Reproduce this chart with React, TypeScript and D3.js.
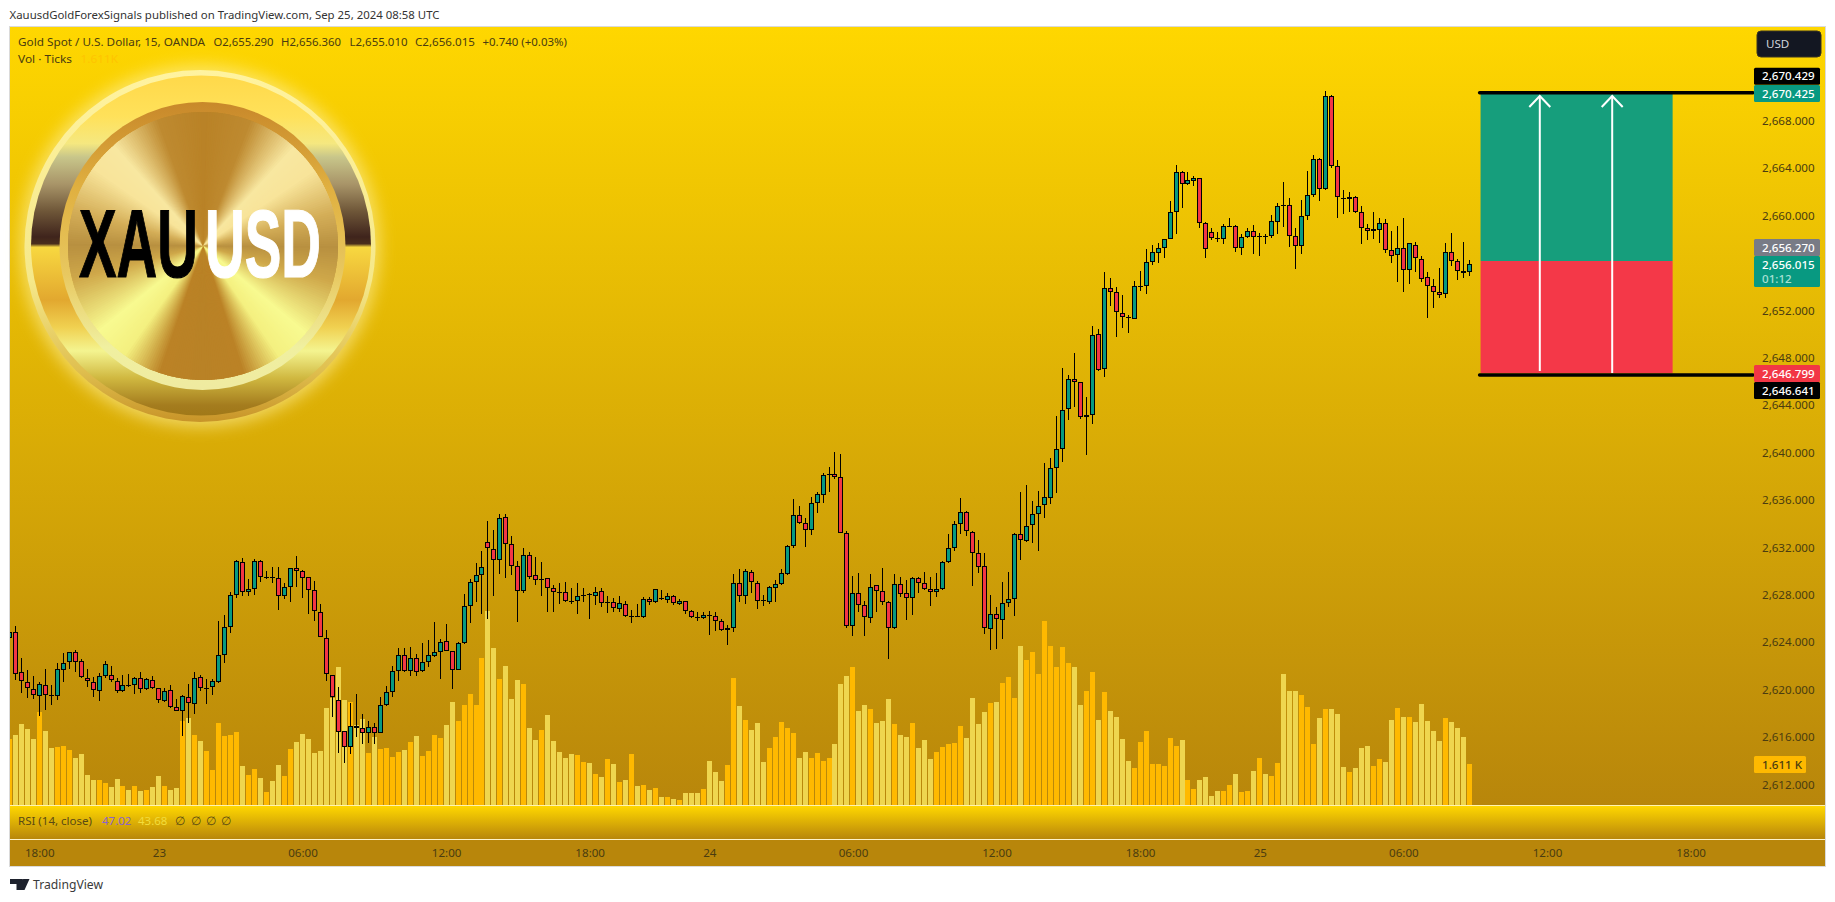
import { useEffect, useRef } from 'react';
import * as d3 from 'd3';

// candles, first one is cut by the left edge of the pane (index -1)
const opens = [
  2624.38,2624.83,2621.51,2620.67,2620.02,2619.49,2620.36,2619.52,2619.49,2621.63,
  2622.30,2623.14,2622.38,2620.95,2620.67,2619.85,2621.12,2621.20,2620.75,2619.85,
  2620.36,2620.36,2620.95,2620.02,2620.78,2620.11,2619.01,2619.94,2618.50,2618.17,
  2619.35,2618.76,2621.03,2620.11,2620.19,2620.61,2622.89,2625.25,2627.95,2630.74,
  2628.21,2628.46,2630.82,2629.47,2629.47,2629.39,2627.87,2628.63,2630.23,2629.98,
  2629.47,2628.38,2626.52,2624.33,2621.20,2619.09,2616.48,2615.13,2616.90,2616.73,
  2616.31,2616.82,2616.31,2618.67,2619.77,2621.54,2622.89,2621.54,2622.64,2621.54,
  2622.30,2622.81,2623.14,2624.07,2623.23,2621.63,2623.90,2627.02,2629.04,2629.63,
  2632.42,2631.83,2630.90,2634.53,2632.25,2630.39,2628.28,2631.32,2629.63,2629.21,
  2629.38,2628.54,2628.20,2628.20,2627.44,2627.44,2627.93,2628.03,2627.86,2628.28,
  2627.34,2627.36,2626.77,2627.19,2626.15,2626.17,2626.09,2627.61,2627.36,2627.69,
  2627.53,2627.86,2627.19,2627.44,2626.60,2626.09,2626.01,2626.26,2626.17,2625.75,
  2624.99,2625.16,2628.96,2627.86,2629.89,2628.96,2627.53,2627.36,2628.54,2628.88,
  2629.72,2632.08,2634.70,2634.02,2633.43,2635.71,2636.39,2638.07,2638.16,2637.90,
  2633.18,2625.33,2628.12,2627.10,2626.01,2628.79,2628.28,2627.36,2625.16,2628.88,
  2628.12,2627.69,2629.38,2628.96,2628.45,2628.20,2628.45,2630.73,2631.91,2633.94,
  2634.95,2633.26,2631.49,2630.39,2625.08,2626.34,2625.84,2627.27,2627.61,2633.09,
  2632.50,2633.85,2634.78,2635.54,2636.13,2638.66,2640.27,2643.64,2646.18,2645.92,
  2642.96,2643.13,2649.97,2647.01,2653.85,2653.51,2651.74,2651.40,2651.23,2654.00,
  2654.02,2656.04,2656.80,2657.22,2657.98,2660.26,2663.64,2662.63,2662.88,2663.13,
  2659.33,2658.57,2658.07,2657.98,2659.00,2659.08,2657.22,2658.15,2658.66,2658.22,
  2658.24,2658.24,2659.42,2660.85,2660.85,2658.24,2657.39,2659.92,2661.70,2664.74,
  2662.20,2670.05,2664.14,2661.44,2661.36,2661.53,2660.26,2658.91,2658.66,2658.74,
  2659.33,2657.06,2656.63,2657.22,2655.37,2657.48,2656.30,2654.78,2654.02,2653.51,
  2653.34,2656.89,2656.13,2655.28,2655.20,
];
const closes = [
  2624.83,2621.34,2620.70,2620.11,2619.52,2620.44,2619.52,2619.50,2621.71,2622.22,
  2623.14,2622.36,2621.03,2620.70,2619.94,2621.12,2622.13,2620.78,2619.85,2620.36,
  2620.34,2620.95,2620.02,2620.87,2620.11,2619.09,2619.91,2618.50,2618.22,2619.43,
  2618.84,2620.95,2620.11,2620.13,2620.70,2622.89,2625.25,2627.95,2630.82,2628.21,
  2628.46,2630.82,2629.47,2629.49,2629.39,2627.87,2628.63,2630.23,2629.98,2629.39,
  2628.38,2626.60,2624.41,2621.34,2619.35,2616.39,2615.13,2616.90,2616.73,2616.31,
  2616.82,2616.31,2618.67,2619.77,2621.54,2622.89,2621.54,2622.64,2621.46,2622.30,
  2622.89,2623.14,2623.99,2623.23,2621.63,2623.90,2627.03,2629.04,2629.63,2630.31,
  2631.91,2630.90,2634.45,2632.25,2630.39,2628.28,2631.32,2629.47,2629.21,2629.30,
  2628.54,2628.20,2628.18,2627.44,2627.36,2627.86,2627.95,2628.01,2628.20,2627.27,
  2627.36,2626.85,2627.27,2626.17,2626.17,2626.15,2627.61,2627.36,2628.45,2627.67,
  2627.86,2627.27,2627.44,2626.60,2626.09,2626.01,2626.26,2626.17,2625.75,2624.99,
  2625.16,2628.96,2627.86,2629.97,2629.04,2627.44,2627.44,2628.62,2628.88,2629.80,
  2632.08,2634.70,2634.02,2633.43,2635.71,2636.47,2638.07,2638.16,2637.90,2633.18,
  2625.33,2628.12,2627.10,2626.09,2628.62,2628.28,2627.36,2625.16,2628.88,2628.03,
  2627.69,2629.38,2628.96,2628.45,2628.20,2628.45,2630.73,2631.91,2633.94,2634.95,
  2633.35,2631.49,2630.31,2625.16,2626.34,2625.92,2627.27,2627.61,2633.09,2632.59,
  2633.77,2634.78,2635.46,2636.22,2638.66,2640.27,2643.56,2646.18,2645.92,2642.96,
  2643.13,2649.88,2646.93,2653.85,2653.51,2651.82,2651.40,2651.38,2654.02,2654.02,
  2656.04,2656.89,2657.22,2657.98,2660.26,2663.64,2662.63,2662.96,2663.13,2659.33,
  2657.14,2658.07,2657.98,2659.08,2659.08,2657.22,2658.15,2658.66,2658.15,2658.24,
  2658.22,2659.50,2660.77,2660.83,2658.24,2657.39,2659.92,2661.70,2664.74,2662.20,
  2670.05,2664.14,2661.53,2661.36,2661.53,2660.26,2658.91,2658.66,2658.83,2659.33,
  2657.06,2656.55,2657.22,2655.37,2657.65,2656.38,2654.61,2654.02,2653.51,2653.26,
  2656.89,2656.13,2655.28,2655.11,2655.87,
];
const highs = [
  2624.90,2625.34,2622.64,2621.65,2621.15,2620.67,2621.71,2620.39,2622.22,2623.06,
  2623.14,2623.34,2622.55,2621.71,2621.09,2621.43,2622.38,2621.99,2620.95,2621.20,
  2621.29,2621.09,2621.46,2620.95,2621.15,2620.16,2620.16,2620.36,2619.18,2619.54,
  2620.44,2621.46,2621.20,2620.87,2620.89,2625.79,2626.27,2628.21,2630.94,2631.08,
  2629.31,2630.99,2630.94,2630.01,2630.32,2630.32,2628.97,2630.23,2631.27,2630.06,
  2629.47,2629.14,2627.20,2625.00,2621.20,2620.19,2616.48,2618.84,2619.60,2617.91,
  2617.32,2617.15,2619.40,2620.30,2621.99,2623.48,2623.48,2623.57,2622.98,2623.90,
  2624.19,2625.68,2624.24,2625.51,2623.23,2623.99,2628.04,2629.30,2630.65,2631.66,
  2634.19,2633.43,2634.81,2634.81,2632.93,2630.82,2631.91,2631.58,2631.15,2630.73,
  2629.38,2628.79,2628.96,2629.04,2628.54,2628.96,2628.57,2628.12,2628.65,2628.54,
  2627.86,2627.69,2627.86,2627.44,2626.68,2627.19,2627.78,2627.78,2628.45,2628.37,
  2628.12,2627.95,2627.61,2627.44,2626.68,2626.51,2626.51,2626.60,2626.51,2625.92,
  2625.42,2629.72,2630.14,2630.14,2630.06,2629.13,2627.95,2628.71,2629.21,2630.14,
  2632.17,2636.05,2635.46,2634.45,2636.22,2636.64,2638.27,2638.75,2640.01,2639.85,
  2633.35,2629.55,2629.80,2627.44,2629.72,2628.79,2630.23,2627.44,2629.72,2629.47,
  2629.21,2629.47,2629.47,2629.89,2629.47,2629.80,2630.82,2633.09,2634.19,2636.13,
  2635.04,2633.35,2632.59,2631.49,2627.95,2626.99,2629.07,2629.89,2633.18,2636.64,
  2637.26,2635.88,2636.72,2639.09,2639.51,2643.05,2647.10,2646.51,2648.37,2645.92,
  2644.68,2650.64,2650.39,2655.23,2654.69,2653.93,2653.26,2651.57,2654.44,2655.28,
  2657.14,2657.51,2657.65,2657.98,2661.19,2664.23,2663.72,2663.64,2663.30,2663.13,
  2659.42,2658.91,2658.57,2659.25,2659.76,2659.17,2658.41,2658.91,2659.17,2658.49,
  2658.41,2660.01,2661.02,2662.79,2661.44,2658.91,2661.28,2663.72,2665.07,2664.82,
  2670.47,2670.14,2664.65,2662.12,2661.95,2661.61,2660.77,2659.25,2660.26,2659.76,
  2659.67,2658.66,2659.08,2659.76,2657.65,2657.73,2656.55,2655.20,2654.61,2655.54,
  2657.65,2658.49,2656.30,2657.73,2656.21,
];
const lows = [
  2624.30,2620.84,2619.74,2619.32,2619.23,2617.77,2618.28,2618.73,2619.12,2620.67,
  2621.71,2621.51,2620.95,2620.25,2619.40,2619.07,2620.98,2620.67,2619.74,2619.83,
  2620.19,2619.66,2619.74,2619.97,2620.08,2618.84,2618.95,2618.42,2618.22,2616.11,
  2617.21,2617.97,2619.91,2618.78,2619.54,2620.53,2622.27,2624.80,2627.76,2627.90,
  2627.90,2628.01,2629.11,2629.36,2629.02,2626.75,2627.67,2627.42,2628.63,2627.76,
  2626.41,2625.82,2624.41,2620.75,2617.72,2614.68,2613.83,2614.56,2616.03,2615.41,
  2615.52,2615.41,2616.31,2618.62,2619.40,2620.75,2621.51,2621.18,2621.18,2621.51,
  2621.88,2622.78,2620.89,2623.23,2620.08,2621.63,2623.82,2625.58,2627.36,2626.37,
  2625.95,2627.92,2629.72,2629.44,2629.66,2625.70,2628.17,2629.30,2628.82,2627.92,
  2626.57,2626.57,2627.22,2627.41,2627.24,2626.37,2627.41,2625.98,2627.10,2626.99,
  2626.48,2626.57,2626.57,2626.15,2625.64,2626.15,2626.06,2627.10,2627.33,2627.58,
  2627.27,2627.16,2627.16,2626.40,2626.01,2625.81,2625.98,2624.60,2624.97,2624.97,
  2623.78,2624.88,2627.41,2627.24,2628.17,2626.82,2627.07,2627.19,2627.41,2628.79,
  2629.69,2631.97,2633.99,2632.05,2633.04,2634.87,2635.77,2636.70,2637.79,2633.18,
  2625.16,2624.54,2626.51,2624.54,2625.64,2626.57,2627.10,2622.60,2625.13,2627.83,
  2625.89,2626.32,2628.12,2628.37,2627.07,2627.78,2628.40,2630.65,2631.72,2633.15,
  2632.98,2628.76,2629.86,2624.71,2623.36,2623.45,2624.29,2626.99,2626.23,2630.96,
  2632.48,2632.39,2631.72,2634.50,2635.68,2636.61,2639.20,2642.77,2643.87,2642.85,
  2639.81,2642.40,2646.90,2646.39,2652.36,2649.77,2650.53,2650.11,2651.23,2653.65,
  2653.40,2655.85,2656.01,2656.44,2657.98,2658.46,2660.66,2662.54,2662.51,2658.97,
  2656.44,2657.96,2657.79,2657.62,2659.00,2656.94,2656.69,2658.12,2656.77,2656.61,
  2657.62,2658.12,2658.46,2659.05,2657.36,2655.51,2656.77,2659.64,2661.58,2661.25,
  2662.17,2663.98,2659.81,2660.15,2660.32,2660.23,2657.62,2657.96,2658.04,2657.70,
  2656.86,2656.01,2654.41,2653.57,2654.24,2655.26,2654.41,2651.37,2652.22,2653.06,
  2653.06,2655.76,2654.58,2654.75,2654.92,
];
const volumes = [
  2594,2751,3183,2987,2594,3655,2908,2240,2279,2319,
  2162,1847,2004,1179,983,983,865,707,1022,747,
  590,747,550,590,707,1140,747,590,668,3301,
  3419,2751,2515,2122,1376,3223,2712,2751,2869,1533,
  1179,1415,1061,511,943,1572,1140,2201,2476,2790,
  2594,2044,2122,3812,4205,5423,4127,4048,3144,3380,
  2044,2672,2201,2240,1886,2083,2162,2476,2712,1926,
  2122,2751,2633,3144,4048,3301,3930,4362,3930,5777,
  7624,6170,4952,5463,4166,4913,4755,3026,2555,2948,
  3537,2515,2083,1847,2004,1965,1690,1651,1218,1100,
  1808,1611,904,983,2004,747,786,590,668,314,
  314,236,197,472,472,472,629,1729,1297,943,
  1572,4991,3891,3341,2948,3223,1690,2240,2672,3262,
  3026,2830,1847,2083,1847,2044,1729,1847,2397,4755,
  5070,5423,3694,3930,3773,3223,3301,4166,3183,2751,
  2672,3223,2240,2555,1808,2083,2279,2397,2437,3105,
  2633,4205,3183,3655,4009,4048,4795,5030,4205,6249,
  5699,6013,5148,7231,6249,5423,6209,5581,5423,3930,
  4480,5227,3341,4441,3694,3458,2594,1729,1454,2476,
  2908,1611,1611,1533,2633,2319,2555,983,629,983,
  1100,354,550,550,786,1218,511,550,1336,1847,
  1218,1140,1651,5148,4480,4480,4323,3851,2397,3419,
  3773,3773,3576,1493,1297,1454,2240,2319,1533,1808,
  1690,3341,3812,3458,3458,3262,3969,3301,2908,2515,
  3419,3262,3026,2672,1611,
];

const priceTicks = d3.range(2612, 2669, 4);
const timeTickIndex = [4, 24, 48, 72, 96, 116, 140, 164, 188, 208, 232, 256, 280];
const timeTickLabels = ['18:00', '23', '06:00', '12:00', '18:00', '24', '06:00', '12:00', '18:00', '25', '06:00', '12:00', '18:00'];

// long position drawn on the chart
const targetLevel = 2670.36;
const entryLevel = 2656.16;
const stopLevel = 2646.71;
const lowerLine = 2646.54;
const toolFrom = 244.9;
const toolTo = 277;
const arrowIndex = [254.8, 266.9];
const arrowBase = [2646.88, 2646.71];
const arrowTip = 2670.08;

const coinRingStops = [
  ['0%', '#FFD94A'], ['12%', '#FFE15A'], ['20%', '#F5E880'], ['24%', '#C8C68A'], ['32%', '#A89468'],
  ['40%', '#6E5638'], ['47.5%', '#3F241C'], ['49.5%', '#4A2E1C'], ['50.5%', '#F8D840'], ['66%', '#E2A82F'],
  ['74%', '#F0D050'], ['81%', '#F4F490'], ['89%', '#D0B840'], ['97%', '#A47C1E'], ['100%', '#A07818'],
];
const coinDiscAngles = [0, 20, 42, 55, 75, 90, 105, 130, 145, 162, 180, 198, 215, 230, 255, 270, 285, 305, 318, 340, 360];
const coinDiscColors = [
  '#B98226', '#BE8A30', '#F8E7A0', '#F8E49A', '#D4AE58', '#B89040', '#CFA84A', '#F8FA90', '#F4F080', '#BB8226',
  '#B98226', '#BB8226', '#F4F080', '#F8FA90', '#CFA84A', '#B89040', '#D4AE58', '#F8E49A', '#F8E7A0', '#BE8A30', '#B98226',
];

const UP = '#089981';
const DOWN = '#F23645';
const FONT = '"Noto Sans", sans-serif';
const INK = '#4A3C10';

export default function App() {
  const svgRef = useRef<SVGSVGElement>(null);

  useEffect(() => {
    if (!svgRef.current) return;
    const svg = d3.select(svgRef.current);
    svg.selectAll('*').remove();

    const pane = { left: 10, right: 1825, top: 27, bottom: 805 };
    const x = d3.scaleLinear().domain([0, 243]).range([15.3, 1469.2]);
    const y = d3.scaleLinear().domain([2612, 2668]).range([784.3, 120.7]);
    const yVol = d3.scaleLinear().domain([0, 1611]).range([805, 764]);

    const candles = opens.map((o, k) => ({
      i: k - 1, o, h: highs[k], l: lows[k], c: closes[k], v: volumes[k],
    }));

    const defs = svg.append('defs');
    const vgrad = (id: string, stops: string[][]) => {
      const g = defs.append('linearGradient').attr('id', id).attr('x1', 0).attr('x2', 0).attr('y1', 0).attr('y2', 1);
      stops.forEach(([off, col]) => g.append('stop').attr('offset', off).attr('stop-color', col));
    };
    vgrad('goldBg', [['0%', '#FFD700'], ['100%', '#B8860B']]);
    vgrad('coinRing', coinRingStops);
    vgrad('coinEdge', [['0%', '#FFF3A0'], ['60%', '#F5E88A'], ['85%', '#E0C050'], ['100%', '#C89428']]);
    vgrad('coinRim', [['0%', '#C8882A'], ['30%', '#E0B040'], ['60%', '#E8C860'], ['85%', '#F0F0A0'], ['100%', '#EFEAA0']]);
    defs.append('filter').attr('id', 'coinGlow').attr('x', '-20%').attr('y', '-20%').attr('width', '140%').attr('height', '140%')
      .append('feGaussianBlur').attr('stdDeviation', 8);
    defs.append('clipPath').attr('id', 'paneClip').append('rect')
      .attr('x', pane.left).attr('y', pane.top)
      .attr('width', pane.right - pane.left).attr('height', pane.bottom - pane.top);

    // backgrounds
    svg.append('rect').attr('width', 1835).attr('height', 902).attr('fill', '#fff');
    svg.append('rect').attr('x', 9.5).attr('y', 26.5).attr('width', 1816).attr('height', 840)
      .attr('fill', 'none').attr('stroke', '#DADADA');
    svg.append('rect').attr('x', pane.left).attr('y', pane.top)
      .attr('width', pane.right - pane.left).attr('height', pane.bottom - pane.top).attr('fill', 'url(#goldBg)');
    svg.append('rect').attr('x', pane.left).attr('y', 806).attr('width', pane.right - pane.left).attr('height', 33).attr('fill', 'url(#goldBg)');
    svg.append('rect').attr('x', pane.left).attr('y', 840).attr('width', pane.right - pane.left).attr('height', 26).attr('fill', '#B8860B');
    svg.append('rect').attr('x', pane.left).attr('y', 805).attr('width', pane.right - pane.left).attr('height', 1).attr('fill', '#FFF3B0');
    svg.append('rect').attr('x', pane.left).attr('y', 839).attr('width', pane.right - pane.left).attr('height', 1).attr('fill', '#FFF3C8');

    // coin logo
    const coin = svg.append('g');
    coin.append('ellipse').attr('cx', 200).attr('cy', 246).attr('rx', 180).attr('ry', 181)
      .attr('fill', '#FFF2A0').attr('opacity', 0.6).attr('filter', 'url(#coinGlow)');
    coin.append('ellipse').attr('cx', 200).attr('cy', 246).attr('rx', 175.5).attr('ry', 176).attr('fill', 'url(#coinEdge)');
    coin.append('ellipse').attr('cx', 201).attr('cy', 245.5).attr('rx', 170).attr('ry', 170).attr('fill', 'url(#coinRing)');
    coin.append('ellipse').attr('cx', 202.5).attr('cy', 246).attr('rx', 143).attr('ry', 144).attr('fill', 'url(#coinRim)');

    const discColor = d3.scaleLinear<string>().domain(coinDiscAngles).range(coinDiscColors);
    const wedge = d3.arc<number>().innerRadius(0).outerRadius(1)
      .startAngle((d) => (d * Math.PI) / 180)
      .endAngle((d) => ((d + 2.5) * Math.PI) / 180);
    coin.append('g').attr('transform', 'translate(203,246) scale(135,134)')
      .selectAll('path')
      .data(d3.range(0, 360, 1))
      .join('path')
      .attr('d', (d) => wedge(d))
      .attr('fill', (d) => discColor(d));

    // condensed lettering, squeezed to the width it has in the logo
    const coinWord = (txt: string, tx: number, w: number, col: string) => {
      const t = coin.append('text').text(txt)
        .attr('font-family', '"Liberation Sans Narrow", "Liberation Sans", sans-serif')
        .attr('font-weight', 700).attr('font-size', 96).attr('fill', col)
        .attr('stroke', col).attr('stroke-width', 1.2);
      const natural = (t.node() as SVGTextElement).getComputedTextLength();
      t.attr('transform', `translate(${tx},277) scale(${w / natural},1)`);
    };
    coinWord('XAU', 79, 119, '#000');
    coinWord('USD', 205, 116, '#fff');

    const plot = svg.append('g').attr('clip-path', 'url(#paneClip)');

    // volume
    plot.append('g').attr('shape-rendering', 'crispEdges')
      .selectAll('rect')
      .data(candles)
      .join('rect')
      .attr('x', (d) => Math.round(x(d.i) - 2.5))
      .attr('width', 5)
      .attr('y', (d) => yVol(d.v))
      .attr('height', (d) => 805 - yVol(d.v))
      .attr('fill', (d) => (d.c > d.o ? '#FFB900' : '#EFD64F'));

    // candles
    const candle = plot.append('g').attr('shape-rendering', 'crispEdges')
      .selectAll('g')
      .data(candles)
      .join('g');
    candle.append('rect')
      .attr('x', (d) => Math.round(x(d.i) - 2.5) + 2)
      .attr('width', 1)
      .attr('y', (d) => y(d.h))
      .attr('height', (d) => y(d.l) - y(d.h))
      .attr('fill', '#000');
    const bodyTop = (d: { o: number; c: number }) => Math.round(y(Math.max(d.o, d.c)));
    const bodyHeight = (d: { o: number; c: number }) => Math.max(1, Math.round(y(Math.min(d.o, d.c))) - bodyTop(d));
    candle.append('rect')
      .attr('x', (d) => Math.round(x(d.i) - 2.5))
      .attr('width', 5)
      .attr('y', bodyTop)
      .attr('height', bodyHeight)
      .attr('fill', '#000');
    candle.filter((d) => bodyHeight(d) > 2).append('rect')
      .attr('x', (d) => Math.round(x(d.i) - 2.5) + 1)
      .attr('width', 3)
      .attr('y', (d) => bodyTop(d) + 1)
      .attr('height', (d) => bodyHeight(d) - 2)
      .attr('fill', (d) => (d.c > d.o ? UP : DOWN));

    // long position tool
    const tool = svg.append('g');
    const xFrom = x(toolFrom);
    const xTo = x(toolTo);
    tool.append('rect').attr('x', xFrom).attr('width', xTo - xFrom)
      .attr('y', y(targetLevel)).attr('height', y(entryLevel) - y(targetLevel)).attr('fill', '#169E7C');
    tool.append('rect').attr('x', xFrom).attr('width', xTo - xFrom)
      .attr('y', y(entryLevel)).attr('height', y(stopLevel) - y(entryLevel)).attr('fill', '#F43848');
    [targetLevel, lowerLine].forEach((lv) => {
      tool.append('line').attr('x1', xFrom - 1).attr('x2', 1753).attr('y1', y(lv)).attr('y2', y(lv))
        .attr('stroke', '#000').attr('stroke-width', 3.4).attr('stroke-linecap', 'round');
    });
    arrowIndex.forEach((idx, k) => {
      const ax = x(idx);
      const tip = y(arrowTip);
      tool.append('line').attr('x1', ax).attr('x2', ax).attr('y1', y(arrowBase[k])).attr('y2', tip)
        .attr('stroke', '#fff').attr('stroke-width', 2);
      tool.append('path').attr('d', d3.line()([[ax - 10.5, tip + 11], [ax, tip], [ax + 10.5, tip + 11]]))
        .attr('fill', 'none').attr('stroke', '#fff').attr('stroke-width', 2);
    });

    // price axis
    svg.append('g').attr('transform', 'translate(1762,0)')
      .call(d3.axisRight(y).tickValues(priceTicks).tickFormat(d3.format(',.3f')).tickSize(0).tickPadding(0))
      .call((g) => g.select('.domain').remove())
      .attr('font-family', FONT).attr('font-size', 11.6)
      .selectAll('text').attr('fill', INK);

    // time axis
    svg.append('g').attr('transform', 'translate(0,853)')
      .call(d3.axisBottom(x).tickValues(timeTickIndex).tickFormat((_d, i) => timeTickLabels[i]).tickSize(0).tickPadding(0))
      .call((g) => g.select('.domain').remove())
      .attr('font-family', FONT).attr('font-size', 11.6)
      .selectAll('text').attr('dy', '0.35em').attr('fill', INK);

    // price tags
    const tag = (yMid: number, h: number, fill: string, lines: [string, string][], w = 66) => {
      svg.append('rect').attr('x', 1754).attr('y', yMid - h / 2).attr('width', w).attr('height', h).attr('rx', 1.5).attr('fill', fill);
      lines.forEach(([txt, col], k) => {
        svg.append('text').text(txt).attr('x', 1762).attr('y', yMid - h / 2 + 8.5 + k * 14)
          .attr('dy', '0.35em').attr('font-family', FONT).attr('font-size', 11.6).attr('font-weight', 500).attr('fill', col);
      });
    };
    tag(y(targetLevel) - 16.5, 17, '#000', [['2,670.429', '#fff']]);
    tag(y(targetLevel) + 0.8, 17, '#089981', [['2,670.425', '#fff']]);
    tag(y(entryLevel) - 13.5, 17, '#787B86', [['2,656.270', '#fff']]);
    tag(y(entryLevel) + 10.5, 31, '#089981', [['2,656.015', '#fff'], ['01:12', '#A8E0D4']]);
    tag(y(stopLevel) + 0.5, 17, '#F23645', [['2,646.799', '#fff']]);
    tag(y(stopLevel) + 17.5, 17, '#000', [['2,646.641', '#fff']]);
    tag(yVol(1611) + 0.5, 17, '#FFB900', [['1.611 K', INK]], 52);

    // currency button
    svg.append('rect').attr('x', 1757).attr('y', 31).attr('width', 64).attr('height', 26).attr('rx', 4)
      .attr('fill', '#131722').attr('stroke', '#3A3520');
    svg.append('text').text('USD').attr('x', 1766).attr('y', 48).attr('font-family', FONT).attr('font-size', 11.6).attr('fill', '#D1D4DC');

    // header and legends
    const label = (txt: string, tx: number, ty: number, col: string, size = 11.5, len?: number) => {
      const t = svg.append('text').text(txt).attr('x', tx).attr('y', ty).attr('font-family', FONT).attr('font-size', size).attr('fill', col);
      if (len) t.attr('textLength', len).attr('lengthAdjust', 'spacingAndGlyphs');
    };
    label('XauusdGoldForexSignals published on TradingView.com, Sep 25, 2024 08:58 UTC', 9.5, 19, '#333', 11.5, 430);
    label('Gold Spot / U.S. Dollar, 15, OANDA', 18, 46, INK, 11.5, 187);
    label('O2,655.290', 213.5, 46, INK, 11.5, 60);
    label('H2,656.360', 281, 46, INK, 11.5, 60);
    label('L2,655.010', 349.5, 46, INK, 11.5, 58);
    label('C2,656.015', 415, 46, INK, 11.5, 60);
    label('+0.740 (+0.03%)', 482.5, 46, INK, 11.5, 84.5);
    label('Vol · Ticks', 18, 63, INK, 11.5, 54);
    label('1.611K', 80.5, 63, '#FFC400', 11.5, 37.5);
    label('RSI (14, close)', 18, 825, '#5A4A14');
    label('47.02', 102, 825, '#8A63C8');
    label('43.68', 138, 825, '#F2DC3C');
    [175, 191, 206, 221].forEach((tx) => label('∅', tx, 825, '#5A4A14'));

    // TradingView logo
    svg.append('path').attr('d', 'M10 879h12v11h-5.5v-6H10z M29.5 879l-5 11h-6l5-11z').attr('fill', '#1E222D');
    svg.append('circle').attr('cx', 23).attr('cy', 881.5).attr('r', 2.4).attr('fill', '#1E222D');
    label('TradingView', 33, 889, '#3A3A3A', 12.6, 70);
  }, []);

  return <svg ref={svgRef} width={1835} height={902} style={{ position: 'absolute', left: 0, top: 0, display: 'block' }} />;
}
